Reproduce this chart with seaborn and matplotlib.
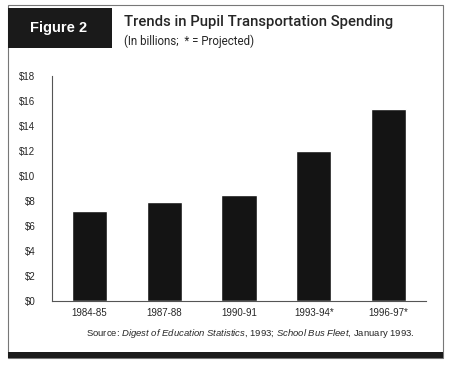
import matplotlib
matplotlib.use('Agg')
import matplotlib.pyplot as plt
from matplotlib.patches import Rectangle
import seaborn as sns
import pandas as pd

# 데이터
years = ['1984-85', '1987-88', '1990-91', '1993-94*', '1996-97*']
spending = [7.2, 7.9, 8.45, 12.0, 15.4]
yticks = list(range(0, 19, 2))
ytick_labels = ['$%d' % v for v in yticks]

df = pd.DataFrame({'year': years, 'spending': spending})

sns.set_style('white')
plt.rcParams['font.family'] = ['Liberation Sans', 'DejaVu Sans']
plt.rcParams['mathtext.fontset'] = 'custom'
plt.rcParams['mathtext.rm'] = 'Liberation Sans'
plt.rcParams['mathtext.it'] = 'Liberation Sans:italic'

fig = plt.figure(figsize=(4.5, 3.67), dpi=100)
ax = fig.add_axes([52/450, 1-301/367, (426-52)/450, (301-76)/367])

sns.barplot(data=df, x='year', y='spending', color='#141414', width=0.47,
            saturation=1, ax=ax)

ax.set_ylim(0, 18)
ax.set_xlim(-0.5, 4.5)
ax.set_yticks(yticks)
ax.set_yticklabels(ytick_labels, fontsize=7)
ax.set_xticks(range(len(years)))
ax.set_xticklabels(years, fontsize=7)
ax.set_xticks([i - 0.5 for i in range(len(years) + 1)], minor=True)
ax.tick_params(axis='x', which='major', length=0, pad=5)
ax.tick_params(axis='x', which='minor', length=8, width=0.8, color='#444444', direction='out')
ax.tick_params(axis='y', length=9, width=0.8, color='#444444', direction='out', pad=3)
ax.set_xlabel('')
ax.set_ylabel('')
sns.despine(ax=ax, top=True, right=True)
ax.spines['left'].set_color('#555555')
ax.spines['bottom'].set_color('#555555')
ax.spines['left'].set_linewidth(0.8)
ax.spines['bottom'].set_linewidth(0.8)

# 테두리, 제목 박스
fig.patches.append(Rectangle((8/450, 1-358/367), 435/450, 353/367, transform=fig.transFigure,
                             fill=False, edgecolor='#777777', linewidth=0.8))
fig.patches.append(Rectangle((8/450, 1-48/367), 104/450, 40/367, transform=fig.transFigure,
                             facecolor='#1a1a1a', edgecolor='none'))
fig.patches.append(Rectangle((8/450, 1-358/367), 435/450, 6/367, transform=fig.transFigure,
                             facecolor='#1a1a1a', edgecolor='none'))

fig.text(59/450, 1-28/367, 'Figure 2', color='white', fontsize=10.5, fontweight='bold',
         ha='center', va='center')
fig.text(124/450, 1-22/367, 'Trends in Pupil Transportation Spending', fontsize=10.7,
         fontweight='medium', ha='left', va='center', family=['Roboto', 'Liberation Sans'])
fig.text(124/450, 1-41/367, '(In billions;  * = Projected)', fontsize=8.3,
         ha='left', va='center', family=['Roboto', 'Liberation Sans'])

fig.text(250/450, 1-333/367,
         r'Source: $\it{Digest\ of\ Education\ Statistics}$, 1993; $\it{School\ Bus\ Fleet}$, January 1993.',
         fontsize=6.8, ha='center', va='center')

plt.savefig('out.png', dpi=100)
